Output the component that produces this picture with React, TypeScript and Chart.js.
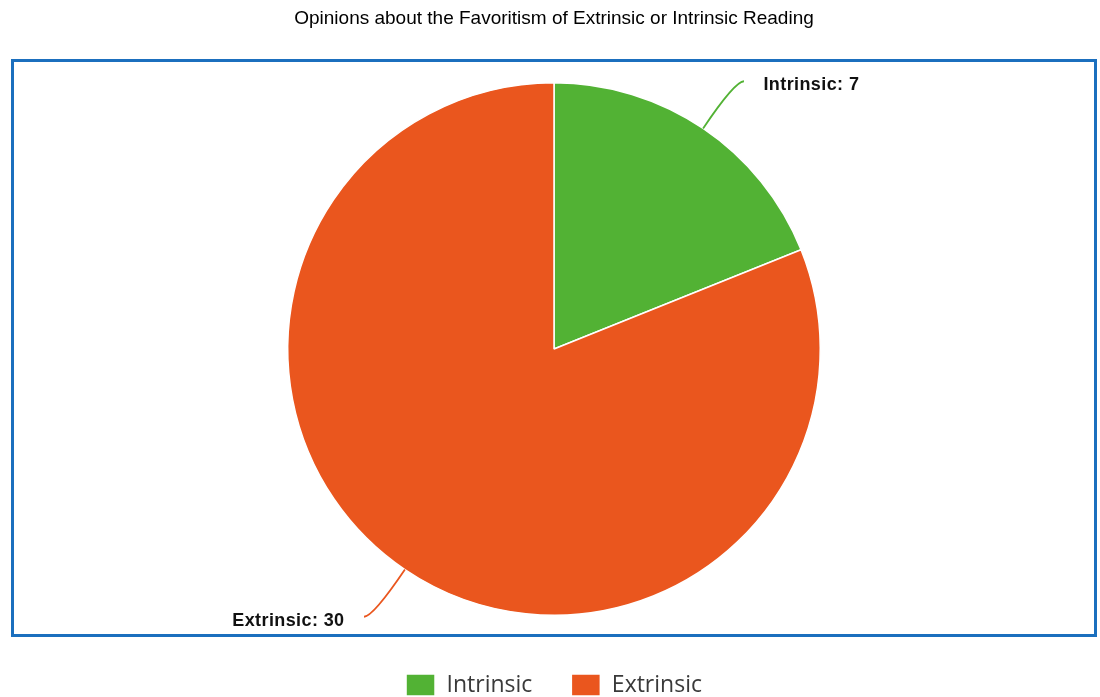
import React, { useEffect, useRef } from "react";
import { Chart, registerables } from "chart.js";

Chart.register(...registerables);

const TITLE = "Opinions about the Favoritism of Extrinsic or Intrinsic Reading";
const categories = ["Intrinsic", "Extrinsic"];
const counts = [7, 30];
const sliceColors = ["#52b234", "#ea561e"];

const framePlugin = {
  id: "frame",
  beforeDraw(chart: any) {
    const { ctx } = chart;
    ctx.save();
    ctx.fillStyle = "#ffffff";
    ctx.fillRect(0, 0, chart.width, chart.height);
    ctx.strokeStyle = "#1b6fbe";
    ctx.lineWidth = 3;
    ctx.strokeRect(12.5, 60.5, 1083, 575);
    ctx.restore();
  },
};

const calloutPlugin = {
  id: "callouts",
  afterDatasetsDraw(chart: any) {
    const { ctx } = chart;
    const meta = chart.getDatasetMeta(0);
    const labels = chart.data.labels as string[];
    const values = chart.data.datasets[0].data as number[];
    meta.data.forEach((arc: any, i: number) => {
      const p = arc.getProps(["x", "y", "startAngle", "endAngle", "outerRadius"], true);
      const mid = (p.startAngle + p.endAngle) / 2;
      const cos = Math.cos(mid);
      const sin = Math.sin(mid);
      const sx = p.x + cos * p.outerRadius;
      const sy = p.y + sin * p.outerRadius;
      const ey = p.y + Math.sign(sin) * (p.outerRadius + 1.5);
      const t = (ey - sy) / sin;
      const cx = sx + cos * t;
      const dir = cos >= 0 ? 1 : -1;
      const ex = cx + dir * 9;
      ctx.save();
      ctx.strokeStyle = sliceColors[i];
      ctx.lineWidth = 1.8;
      ctx.beginPath();
      ctx.moveTo(sx, sy);
      ctx.quadraticCurveTo(cx, ey, ex, ey);
      ctx.stroke();
      ctx.fillStyle = "#111111";
      ctx.font = "bold 18px 'Liberation Sans', Arial, sans-serif";
      try {
        (ctx as any).letterSpacing = "0.4px";
      } catch (e) {}
      ctx.textBaseline = "middle";
      ctx.textAlign = dir > 0 ? "left" : "right";
      ctx.fillText(`${labels[i]}: ${values[i]}`, ex + dir * 19.5, ey + 4);
      ctx.restore();
    });
  },
};

export default function App() {
  const ref = useRef<HTMLCanvasElement>(null);
  useEffect(() => {
    const chart = new Chart(ref.current as HTMLCanvasElement, {
      type: "pie",
      data: {
        labels: categories,
        datasets: [
          {
            data: counts,
            backgroundColor: sliceColors,
            borderColor: "#ffffff",
            borderWidth: 1.5,
          },
        ],
      },
      options: {
        animation: false,
        responsive: true,
        maintainAspectRatio: false,
        layout: { padding: { left: 8, right: 0, top: 0, bottom: 0 } },
        plugins: {
          title: {
            display: true,
            text: TITLE,
            color: "#000000",
            font: { family: "'Liberation Sans', Arial, sans-serif", size: 19, weight: "normal" },
            padding: { top: 7.6, bottom: 51.6 },
          },
          legend: {
            position: "bottom",
            maxHeight: 81,
            title: {
              display: true,
              text: "",
              font: { size: 10, lineHeight: 1 },
              padding: { top: 8.5, bottom: 0 },
            },
            labels: {
              boxWidth: 29,
              boxHeight: 22,
              padding: 39,
              color: "#3a3a3a",
              font: { family: "'Open Sans', sans-serif", size: 23 },
            },
          },
          tooltip: { enabled: false },
        },
      } as any,
      plugins: [framePlugin, calloutPlugin],
    });
    return () => chart.destroy();
  }, []);
  return (
    <div style={{ position: "absolute", left: 0, top: 0, width: 1100, height: 697 }}>
      <canvas ref={ref} />
    </div>
  );
}
